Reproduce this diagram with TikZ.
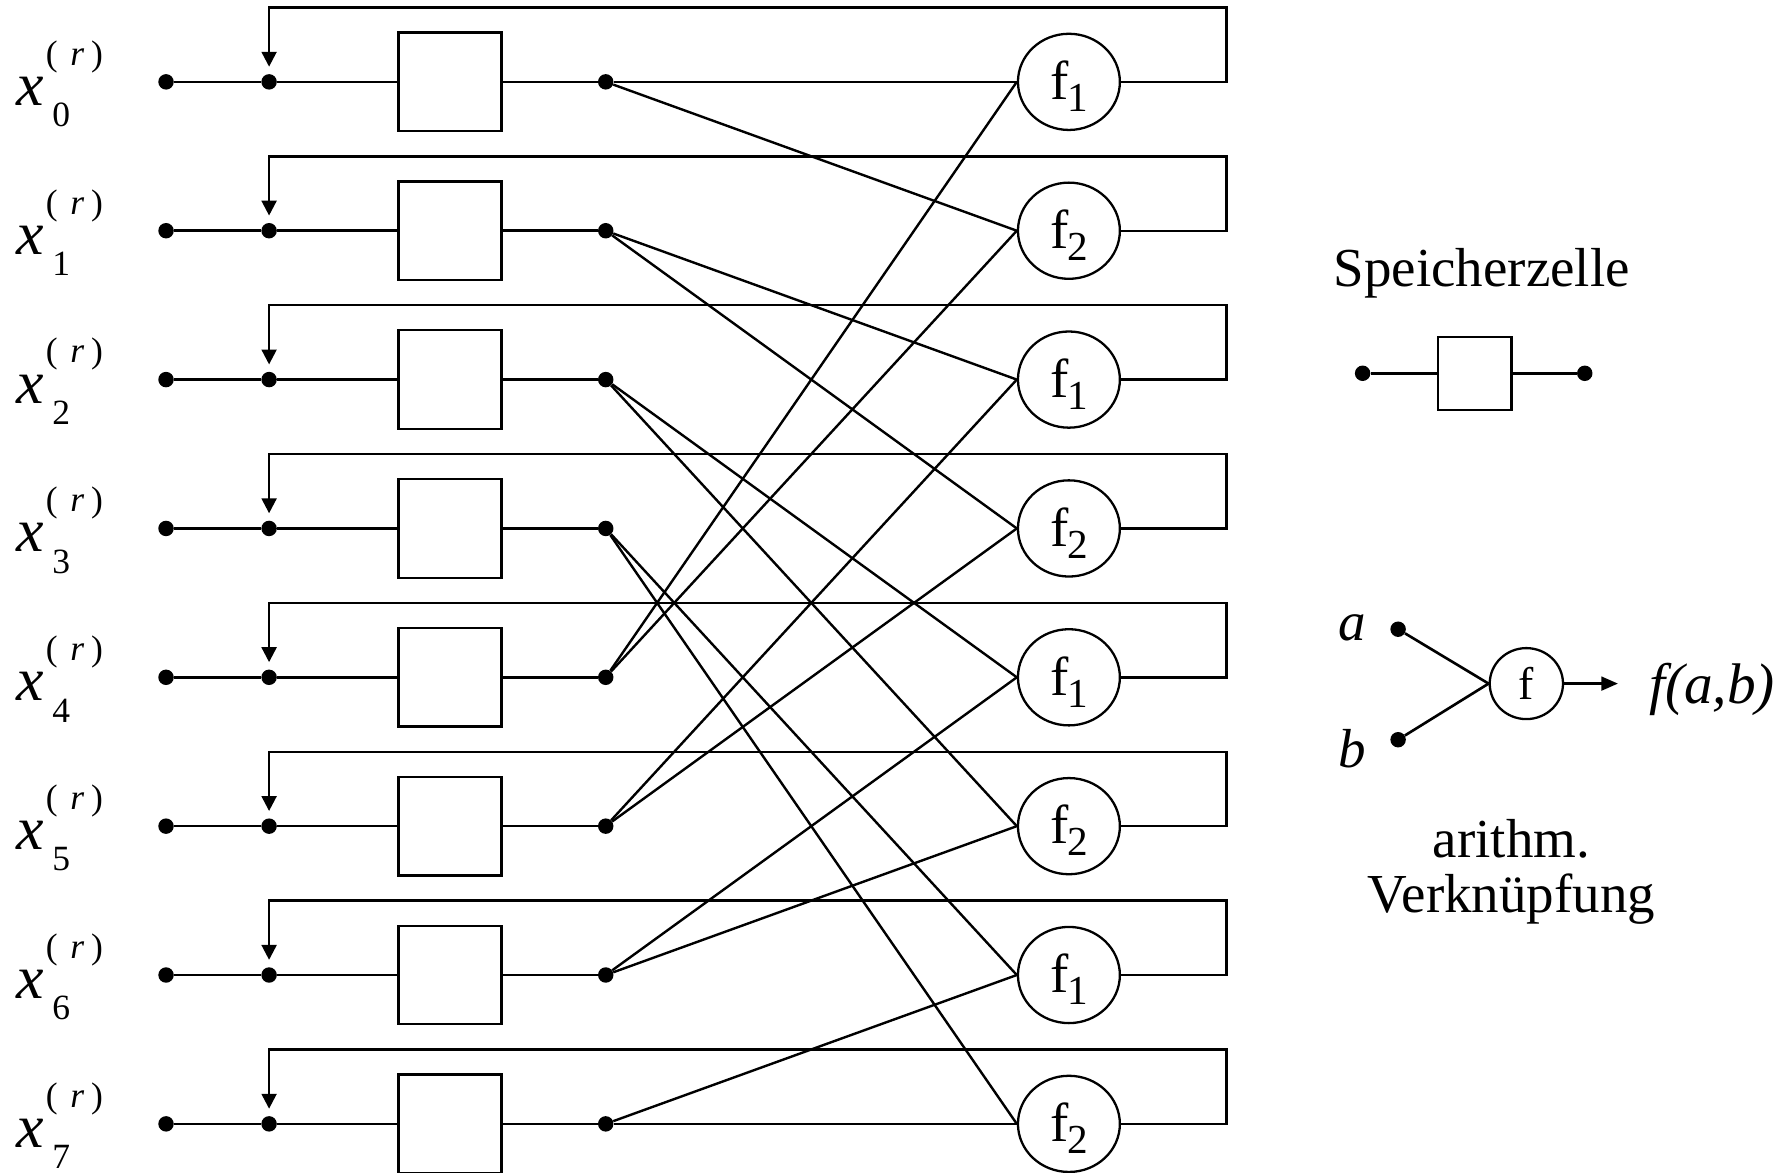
\documentclass[tikz,border=0pt]{standalone}
\usepackage{fontspec}
\setmainfont{Liberation Serif}
\usetikzlibrary{arrows.meta,shapes.geometric}
\tikzset{
	dot/.style={circle,fill,inner sep=0pt,minimum size=13.5pt},
	cell/.style={draw,line width=2pt,minimum width=90pt,minimum height=86pt,inner sep=0pt},
	fun/.style={ellipse,draw,line width=2pt,minimum width=89pt,minimum height=84pt,inner sep=0pt,
		text height=36pt,text depth=5pt,font=\fontsize{48}{48}\selectfont},
	wire/.style={line width=2.3pt},
	loopback/.style={line width=2.1pt,-{Triangle[length=13pt,width=13pt]},shorten >=6.3pt},
	big/.style={inner sep=0pt,font=\fontsize{48}{48}\selectfont},
}
\newcommand{\xin}[1]{\fontsize{54}{54}\selectfont\textit{x}\kern2pt\rlap{\raisebox{35pt}{\fontsize{31}{31}\selectfont(\kern11pt\textit{r}\kern6pt)}}\kern5.5pt\raisebox{-18.6pt}{\fontsize{31}{31}\selectfont #1}}
\newcommand{\fsub}[1]{f\kern-1pt\raisebox{-10.5pt}{\fontsize{36}{36}\selectfont #1}}

\begin{document}
\begin{tikzpicture}[x=1pt,y=-1pt]
	\useasboundingbox (0,0) rectangle (1565,1024.4);
	\foreach \i in {0,...,7}{
		\pgfmathsetmacro{\yy}{71.5+130*\i}
		\pgfmathtruncatemacro{\ff}{1+mod(\i,2)}
		\node[anchor=base west,inner sep=0pt] (x\i) at (14,\yy+20.5) {\xin{\i}};
		\node[dot] (in\i) at (145,\yy) {};
		\node[dot] (j\i) at (235,\yy) {};
		\node[cell] (c\i) at (393,\yy) {};
		\node[dot] (o\i) at (529,\yy) {};
		\node[fun] (f\i) at (933.5,\yy) {\fsub{\ff}};
		\draw[wire] (in\i) -- (j\i) -- (c\i) -- (o\i);
		\draw[loopback] (f\i.east) -- ++(92,0) -- ++(0,-65) -| (j\i);
	}
	\foreach \k in {0,...,7}{
		\pgfmathtruncatemacro{\ta}{2*mod(\k,4)}
		\pgfmathtruncatemacro{\tb}{2*mod(\k,4)+1}
		\draw[wire,line width=2.1pt] (o\k) -- (f\ta.west);
		\draw[wire,line width=2.1pt] (o\k) -- (f\tb.west);
	}

	\node[big,anchor=base] (title) at (1294,250) {Speicherzelle};
	\node[dot] (ma) at (1190,326) {};
	\node[cell,minimum width=64pt,minimum height=64pt] (mc) at (1288,326) {};
	\node[dot] (mb) at (1384,326) {};
	\draw[wire] (ma) -- (mc) -- (mb);

	\node[fun,minimum width=64pt,minimum height=62pt,text height=30pt,text depth=2pt,font=\fontsize{40}{40}\selectfont] (g) at (1333,597) {f};
	\node[dot] (a) at (1221,549.5) {};
	\node[dot] (b) at (1221,646) {};
	\node[big,anchor=base west] (la) at (1169,559) {\textit{a}};
	\node[big,anchor=base west] (lb) at (1169,670) {\textit{b}};
	\coordinate (out) at (1413,597);
	\draw[wire] (a) -- (g.west);
	\draw[wire] (b) -- (g.west);
	\draw[wire,-{Triangle[length=14.5pt,width=12pt]}] (g) -- (out);
	\node[big,anchor=base west,font=\fontsize{50}{50}\selectfont] (res) at (1440,614) {\textit{f(a,b)}};
	\node[big,align=center,anchor=base] (txt) at (1320,797) {arithm.\\Verknüpfung};
\end{tikzpicture}
\end{document}
